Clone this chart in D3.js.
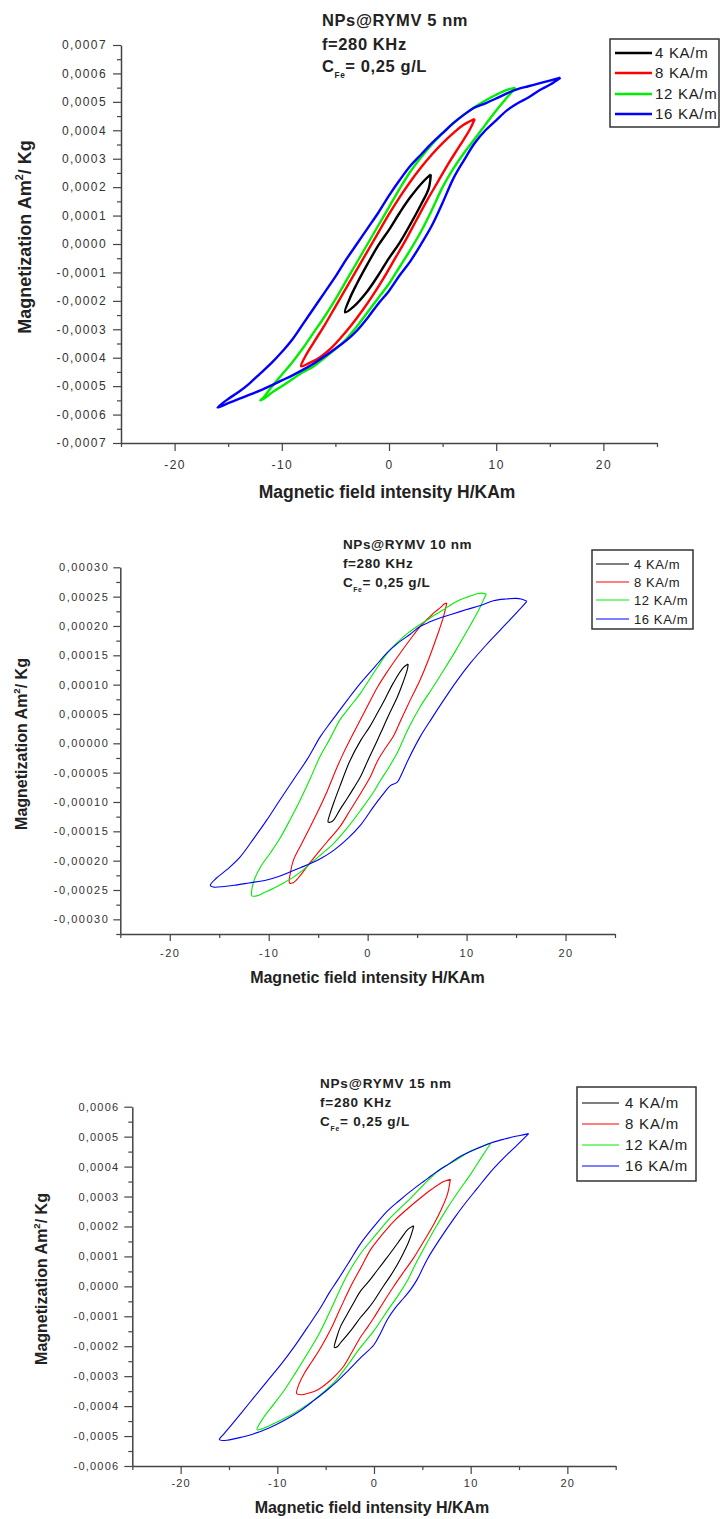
<!DOCTYPE html>
<html><head><meta charset="utf-8">
<script src="https://cdn.jsdelivr.net/npm/d3@7"></script>
<style>body{margin:0;background:#fff}svg{display:block}</style>
</head><body>
<svg id="c" width="720" height="1519"></svg>
<script>
// ---------------- DATA ----------------
// Field H in KA/m, magnetization M in units of 1e-4 Am²/Kg
const seriesLabels = ["4 KA/m", "8 KA/m", "12 KA/m", "16 KA/m"];
const xTicks = [-20, -10, 0, 10, 20];
const xMinorTicks = [-25, -15, -5, 5, 15, 25];
const yTicks5nm = [-7, -6, -5, -4, -3, -2, -1, 0, 1, 2, 3, 4, 5, 6, 7];
const yTicks10nm = [-3, -2.5, -2, -1.5, -1, -0.5, 0, 0.5, 1, 1.5, 2, 2.5, 3];
const yTicks15nm = [-6, -5, -4, -3, -2, -1, 0, 1, 2, 3, 4, 5, 6];
const titles = ["NPs@RYMV 5 nm", "NPs@RYMV 10 nm", "NPs@RYMV 15 nm"];

// 5 nm loops (descending branch then ascending branch)
const nm5_4 = [[3.9,2.45],[3.2,2.2],[2,1.65],[1,1.1],[0,0.5],[-1,-0.05],[-2,-0.7],[-3,-1.4],[-3.7,-1.95],[-4.1,-2.4],
  [-3.3,-2.2],[-2,-1.65],[-1,-1.1],[0,-0.5],[1,0.05],[2,0.7],[3,1.4],[3.7,1.95],[3.9,2.45]];
const nm5_8 = [[8.0,4.4],[7.0,4.2],[6.0,3.9],[5.0,3.55],[4.0,3.15],[3.0,2.7],[2.0,2.2],[1.0,1.65],[0,1.05],[-1.0,0.4],[-2.0,-0.25],[-3.0,-0.9],[-4.0,-1.55],[-5.0,-2.2],[-6.0,-2.85],[-7.0,-3.45],[-7.8,-3.95],[-8.2,-4.3],
  [-7.5,-4.2],[-6.5,-4.0],[-5.5,-3.7],[-4.5,-3.3],[-3.5,-2.85],[-2.5,-2.35],[-1.5,-1.8],[-0.5,-1.2],[0.5,-0.55],[1.5,0.1],[2.5,0.8],[3.5,1.5],[4.5,2.15],[5.5,2.8],[6.5,3.4],[7.5,4.0],[8.0,4.4]];
const nm5_12 = [[11.8,5.5],[11,5.42],[10,5.25],[9,5.05],[8,4.82],[7,4.55],[6,4.25],[5,3.9],[4,3.5],[3,3.05],[2,2.55],[1,1.95],[0,1.3],[-1,0.65],[-2,0.0],[-3,-0.65],[-4,-1.3],[-5,-1.95],[-6,-2.55],[-7,-3.1],[-8,-3.65],[-9,-4.15],[-10,-4.6],[-11,-5.05],[-11.7,-5.4],[-12,-5.5],
  [-11.5,-5.4],[-11,-5.25],[-10,-5.0],[-9,-4.75],[-8,-4.5],[-7,-4.3],[-6,-4.0],[-5,-3.7],[-4,-3.35],[-3,-2.9],[-2,-2.4],[-1,-1.9],[0,-1.4],[1,-0.8],[2,-0.2],[3,0.45],[4,1.2],[5,2.0],[6,2.65],[7,3.2],[8,3.7],[9,4.2],[10,4.7],[11,5.15],[11.8,5.5]];
const nm5_16 = [[16,5.85],[15,5.75],[14,5.65],[13,5.55],[12,5.45],[11,5.3],[10,5.12],[9,4.95],[8,4.8],[7,4.55],[6,4.25],[5,3.9],[4,3.55],[3,3.15],[2,2.75],[1,2.25],[0,1.7],[-1,1.1],[-2,0.55],[-3,0.0],[-4,-0.55],[-5,-1.15],[-6,-1.7],[-7,-2.25],[-8,-2.8],[-9,-3.35],[-10,-3.8],[-11,-4.2],[-12,-4.55],[-13,-4.9],[-14,-5.2],[-15,-5.45],[-16,-5.75],
  [-15,-5.6],[-14,-5.45],[-13,-5.3],[-12,-5.15],[-11,-4.98],[-10,-4.8],[-9,-4.62],[-8,-4.42],[-7,-4.2],[-6,-3.95],[-5,-3.68],[-4,-3.4],[-3,-3.05],[-2,-2.6],[-1,-2.1],[0,-1.65],[1,-1.1],[2,-0.6],[3,0.0],[4,0.65],[5,1.45],[6,2.3],[7,2.95],[8,3.55],[9,4.0],[10,4.35],[11,4.7],[12,4.95],[13,5.15],[14,5.4],[15,5.6],[16,5.85]];

// 10 nm loops
const nm10_4 = [[4.1,1.35],[3.6,1.29],[2.6,1.03],[1.8,0.77],[1.0,0.52],[0.2,0.28],[-0.7,0.05],[-1.8,-0.3],[-2.8,-0.73],[-3.4,-1.0],[-3.8,-1.2],[-4.0,-1.34],
  [-3.7,-1.34],[-3.4,-1.3],[-2.8,-1.13],[-2.1,-0.95],[-1.4,-0.76],[-0.7,-0.56],[0,-0.3],[0.7,-0.05],[1.3,0.17],[2.1,0.47],[3.0,0.79],[3.6,1.05],[4.0,1.25],[4.1,1.35]];
const nm10_8 = [[8.0,2.39],[7.7,2.37],[7.4,2.32],[6.8,2.24],[6.3,2.16],[5.3,1.99],[4.3,1.77],[3.3,1.54],[2.1,1.25],[1.0,0.96],[0,0.64],[-0.8,0.38],[-1.6,0.12],[-2.4,-0.15],[-3.2,-0.45],[-4.1,-0.82],[-5,-1.15],[-5.8,-1.42],[-6.7,-1.72],[-7.5,-1.99],[-7.8,-2.2],[-7.9,-2.38],
  [-7.6,-2.38],[-7.2,-2.33],[-6.8,-2.25],[-5.8,-2.03],[-4.8,-1.82],[-3.8,-1.62],[-2.8,-1.42],[-1.8,-1.15],[-0.7,-0.85],[0.3,-0.56],[1.0,-0.3],[1.8,-0.08],[2.6,0.12],[3.5,0.45],[4.4,0.77],[5.3,1.08],[6.2,1.45],[7.0,1.82],[7.6,2.12],[8.0,2.39]];
const nm10_12 = [[12.0,2.54],[11.5,2.56],[11.1,2.55],[10.2,2.5],[9.4,2.45],[8.5,2.37],[7.7,2.28],[6.8,2.19],[6.0,2.1],[5,1.99],[4.0,1.87],[3,1.72],[2.0,1.54],[1,1.3],[0,1.04],[-0.7,0.86],[-1.8,0.62],[-2.8,0.4],[-3.8,0.08],[-4.8,-0.22],[-5.8,-0.6],[-6.8,-0.96],[-7.8,-1.29],[-8.8,-1.6],[-9.8,-1.86],[-10.8,-2.1],[-11.4,-2.3],[-11.7,-2.48],[-11.7,-2.6],
  [-11.2,-2.6],[-10.4,-2.54],[-9.5,-2.47],[-8.5,-2.38],[-7.5,-2.28],[-6.6,-2.17],[-5.8,-2.05],[-4.6,-1.88],[-3.4,-1.7],[-2,-1.43],[-0.7,-1.14],[0.6,-0.83],[1.3,-0.63],[2.0,-0.45],[2.6,-0.28],[3.0,-0.16],[4.1,0.25],[5.3,0.62],[6.5,0.93],[7.7,1.25],[8.9,1.58],[10.1,1.93],[11.0,2.2],[11.4,2.33],[11.8,2.48],[12.0,2.54]];
const nm10_16 = [[16.1,2.42],[15.5,2.46],[15.0,2.47],[14,2.46],[12.7,2.43],[11.4,2.35],[10,2.28],[8.5,2.2],[7.5,2.15],[6.3,2.07],[5.3,1.99],[4.3,1.86],[3,1.7],[2,1.55],[0.7,1.3],[-0.7,1.03],[-2,0.75],[-2.8,0.57],[-4,0.3],[-4.8,0.11],[-6.1,-0.27],[-7.5,-0.62],[-9,-1.0],[-10.2,-1.31],[-11.5,-1.62],[-12.9,-1.94],[-14.2,-2.15],[-15.3,-2.3],[-15.9,-2.42],
  [-15.6,-2.45],[-14.5,-2.44],[-13.5,-2.42],[-12,-2.38],[-10.2,-2.33],[-9,-2.27],[-7.8,-2.19],[-6.8,-2.12],[-5.8,-2.05],[-4.6,-1.95],[-3.4,-1.82],[-2,-1.62],[-0.7,-1.39],[0.6,-1.08],[1.5,-0.88],[2.3,-0.72],[3.0,-0.66],[3.5,-0.5],[4.1,-0.28],[5.3,0.11],[6.5,0.43],[7.7,0.74],[9,1.06],[10.4,1.37],[12,1.68],[13.4,1.93],[14.8,2.18],[16.1,2.42]];

// 15 nm loops
const nm15_4 = [[4.1,2.02],[3.5,1.9],[2.8,1.6],[2.1,1.29],[1.2,0.9],[0.3,0.52],[-0.5,0.18],[-1.4,-0.16],[-2.1,-0.55],[-2.8,-0.95],[-3.5,-1.37],[-3.9,-1.75],[-4.1,-2.04],
  [-3.8,-2.02],[-3.5,-1.9],[-2.4,-1.48],[-1.4,-1.04],[-0.7,-0.78],[0,-0.48],[1.0,0.02],[1.7,0.35],[2.4,0.72],[3.1,1.15],[3.6,1.5],[4.0,1.88],[4.1,2.02]];
const nm15_8 = [[7.9,3.58],[7.2,3.5],[6,3.25],[4.8,2.95],[3.5,2.6],[2.1,2.19],[0.9,1.75],[-0.3,1.25],[-1.4,0.6],[-2.4,0.0],[-3.5,-0.75],[-4.5,-1.45],[-5.5,-2.04],[-6.4,-2.5],[-7.2,-2.9],[-7.8,-3.3],[-8.0,-3.58],
  [-7.5,-3.62],[-6.9,-3.58],[-5.8,-3.45],[-4.8,-3.22],[-3.9,-2.95],[-3.1,-2.65],[-2.2,-2.15],[-1.4,-1.7],[-0.7,-1.38],[0,-1.04],[1.0,-0.52],[2.0,-0.02],[3.0,0.45],[4.1,0.95],[5.1,1.48],[6.2,2.08],[7.0,2.6],[7.6,3.08],[7.9,3.58]];
const nm15_12 = [[12.1,4.79],[11,4.65],[10,4.52],[8.5,4.22],[6.9,3.92],[5.3,3.45],[3.8,2.95],[2.6,2.58],[1.4,2.19],[0,1.65],[-1.4,1.09],[-2.7,0.42],[-3.5,-0.1],[-4.5,-0.8],[-5.7,-1.6],[-6.9,-2.25],[-8.1,-2.88],[-9.3,-3.48],[-10.4,-3.95],[-11.4,-4.37],[-12.1,-4.79],
  [-11.6,-4.76],[-11.0,-4.68],[-9.8,-4.5],[-8.6,-4.3],[-7.4,-4.06],[-6.2,-3.79],[-5.1,-3.5],[-4.1,-3.2],[-2.7,-2.62],[-1.4,-2.04],[0,-1.48],[1.4,-0.81],[2.5,-0.3],[3.5,0.22],[4.3,0.75],[5.2,1.29],[6.4,1.98],[7.6,2.62],[8.8,3.2],[10.0,3.75],[11.2,4.35],[12.1,4.79]];
const nm15_16 = [[16,5.1],[15.4,5.06],[14.8,5.02],[13.5,4.92],[12.1,4.79],[10.5,4.58],[9.0,4.35],[7.8,4.1],[6.6,3.85],[5.2,3.52],[3.8,3.18],[2.6,2.86],[1.4,2.52],[0,2.0],[-1.4,1.42],[-2.6,0.8],[-3.8,0.19],[-4.6,-0.2],[-5.5,-0.7],[-6.9,-1.38],[-8.3,-2.04],[-9.6,-2.6],[-11.0,-3.15],[-12.4,-3.7],[-13.8,-4.26],[-14.8,-4.65],[-15.5,-4.92],[-16.0,-5.12],
  [-15.6,-5.15],[-15.2,-5.14],[-14,-5.06],[-12.4,-4.92],[-10.8,-4.72],[-9.3,-4.48],[-7.7,-4.17],[-6.2,-3.81],[-5.1,-3.53],[-4.1,-3.26],[-2.7,-2.82],[-1.4,-2.39],[0,-1.95],[0.7,-1.55],[1.4,-1.1],[2.2,-0.72],[3.1,-0.38],[3.8,-0.1],[4.5,0.25],[5.5,0.9],[6.9,1.62],[8.3,2.28],[9.5,2.8],[10.7,3.28],[12,3.8],[13.4,4.28],[14.8,4.72],[16,5.1]];

// ---------------- STYLE / LAYOUT ----------------
const colors = ["#000000", "#ff0000", "#00ee00", "#0000ff"];
const FONT = "Arial, 'Liberation Sans', sans-serif";
const locale = d3.formatLocale({decimal: ",", thousands: ".", grouping: [3], currency: ["", ""], minus: "-"});

const panels = [
  { loops: [nm5_4, nm5_8, nm5_12, nm5_16], title: titles[0],
    xr: [121, 657], yr: [443, 45], yDom: [-7, 7], yTicks: yTicks5nm, yMinorStep: 0.5, digits: 4,
    lw: 2.4, tickFs: 12, tickLs: 1.4, tickLen: 8, xPad: 9, yPad: 6,
    ann: { x: 322, y: [26, 50, 72], fs: 16.5, ls: 0.6 },
    leg: { x: 610, y: 39, w: 109, h: 88, rows: [53, 73, 94, 114], lx: [615, 652], tx: 655, fs: 15, ls: 0.7 },
    xt: { cx: 387, y: 498, fs: 17.5 }, yt: { x: 31, cy: 237, fs: 18 } },
  { loops: [nm10_4, nm10_8, nm10_12, nm10_16], title: titles[1],
    xr: [120.3, 615], yr: [934, 567.3], yDom: [-3.25, 3.0], yTicks: yTicks10nm, yMinorStep: 0.25, digits: 5,
    lw: 1.1, tickFs: 11, tickLs: 1.5, tickLen: 7, xPad: 8, yPad: 4,
    ann: { x: 343, y: [549, 568, 587], fs: 13.5, ls: 0.6 },
    leg: { x: 592, y: 550, w: 101, h: 79, rows: [564, 582, 600, 619], lx: [596, 629], tx: 634, fs: 13, ls: 0.6 },
    xt: { cx: 367.5, y: 983, fs: 16 }, yt: { x: 27, cy: 744, fs: 16 } },
  { loops: [nm15_4, nm15_8, nm15_12, nm15_16], title: titles[2],
    xr: [132.3, 615.7], yr: [1466, 1106.7], yDom: [-6, 6], yTicks: yTicks15nm, yMinorStep: 0.5, digits: 4,
    lw: 1.1, tickFs: 11, tickLs: 1.2, tickLen: 8, xPad: 5, yPad: 5,
    ann: { x: 320, y: [1088, 1107, 1126], fs: 13.5, ls: 0.8 },
    leg: { x: 577, y: 1087, w: 119, h: 94, rows: [1103, 1124, 1145, 1166], lx: [582, 619], tx: 625, fs: 15, ls: 0.8 },
    xt: { cx: 372, y: 1513, fs: 16 }, yt: { x: 47, cy: 1279, fs: 16 } }
];

const svg = d3.select("#c");
svg.append("rect").attr("width", 720).attr("height", 1519).attr("fill", "#fff");

panels.forEach(p => {
  const g = svg.append("g");
  const x = d3.scaleLinear().domain([-25, 25]).range(p.xr);
  const y = d3.scaleLinear().domain(p.yDom).range(p.yr);
  const fmt = locale.format("." + p.digits + "f");

  // minor ticks
  const yMinor = d3.range(p.yDom[0], p.yDom[1] + 1e-9, p.yMinorStep).filter(v => !p.yTicks.some(t => Math.abs(t - v) < 1e-9));
  g.append("g").attr("transform", `translate(${p.xr[0]},0)`)
    .call(d3.axisLeft(y).tickValues(yMinor).tickSize(4).tickSizeOuter(0).tickFormat(""))
    .call(s => s.select(".domain").remove())
    .call(s => s.selectAll("line").attr("stroke", "#444").attr("stroke-width", 1.2));
  g.append("g").attr("transform", `translate(0,${p.yr[0]})`)
    .call(d3.axisBottom(x).tickValues(xMinorTicks).tickSize(4).tickSizeOuter(0).tickFormat(""))
    .call(s => s.select(".domain").remove())
    .call(s => s.selectAll("line").attr("stroke", "#444").attr("stroke-width", 1.2));

  // major axes
  const ya = g.append("g").attr("transform", `translate(${p.xr[0]},0)`)
    .call(d3.axisLeft(y).tickValues(p.yTicks).tickSize(p.tickLen).tickSizeOuter(0).tickPadding(p.yPad)
      .tickFormat(d => fmt(d * 1e-4)));
  const xa = g.append("g").attr("transform", `translate(0,${p.yr[0]})`)
    .call(d3.axisBottom(x).tickValues(xTicks).tickSize(p.tickLen).tickSizeOuter(0).tickPadding(p.xPad)
      .tickFormat(d => d));
  [ya, xa].forEach(a => {
    a.select(".domain").attr("stroke", "#444").attr("stroke-width", 1.5);
    a.selectAll(".tick line").attr("stroke", "#444").attr("stroke-width", 1.2);
    a.selectAll("text").attr("fill", "#333").attr("font-family", FONT)
      .attr("font-size", p.tickFs).style("letter-spacing", p.tickLs + "px");
  });

  // loops
  const line = d3.line().x(d => x(d[0])).y(d => y(d[1])).curve(d3.curveCatmullRom.alpha(0.5));
  p.loops.forEach((lp, i) => {
    g.append("path").attr("d", line(lp)).attr("fill", "none")
      .attr("stroke", colors[i]).attr("stroke-width", p.lw).attr("stroke-linejoin", "round");
  });

  // annotation
  const ann = g.append("g").attr("font-family", FONT).attr("font-weight", "bold")
    .attr("font-size", p.ann.fs).attr("fill", "#222").style("letter-spacing", p.ann.ls + "px");
  ann.append("text").attr("x", p.ann.x).attr("y", p.ann.y[0]).text(p.title);
  ann.append("text").attr("x", p.ann.x).attr("y", p.ann.y[1]).text("f=280 KHz");
  const c = ann.append("text").attr("x", p.ann.x).attr("y", p.ann.y[2]);
  c.append("tspan").text("C");
  c.append("tspan").attr("font-size", p.ann.fs * 0.5).attr("dy", p.ann.fs * 0.35).text("Fe");
  c.append("tspan").attr("dy", -p.ann.fs * 0.35).text("= 0,25 g/L");

  // legend
  const L = p.leg;
  g.append("rect").attr("x", L.x).attr("y", L.y).attr("width", L.w).attr("height", L.h)
    .attr("fill", "#fff").attr("stroke", "#333").attr("stroke-width", 1.5);
  seriesLabels.forEach((lab, i) => {
    g.append("line").attr("x1", L.lx[0]).attr("x2", L.lx[1]).attr("y1", L.rows[i]).attr("y2", L.rows[i])
      .attr("stroke", colors[i]).attr("stroke-width", p.lw);
    g.append("text").attr("x", L.tx).attr("y", L.rows[i]).attr("dy", "0.36em")
      .attr("font-family", FONT).attr("font-size", L.fs).attr("fill", "#222")
      .style("letter-spacing", L.ls + "px").text(lab);
  });

  // axis titles
  g.append("text").attr("x", p.xt.cx).attr("y", p.xt.y).attr("text-anchor", "middle")
    .attr("font-family", FONT).attr("font-weight", "bold").attr("font-size", p.xt.fs).attr("fill", "#222")
    .text("Magnetic field intensity H/KAm");
  const yt = g.append("text").attr("transform", `translate(${p.yt.x},${p.yt.cy}) rotate(-90)`)
    .attr("text-anchor", "middle").attr("font-family", FONT).attr("font-weight", "bold")
    .attr("font-size", p.yt.fs).attr("fill", "#222");
  yt.append("tspan").text("Magnetization Am");
  yt.append("tspan").attr("font-size", p.yt.fs * 0.6).attr("dy", -p.yt.fs * 0.45).text("2");
  yt.append("tspan").attr("dy", p.yt.fs * 0.45).text("/ Kg");
});
</script>
</body></html>
